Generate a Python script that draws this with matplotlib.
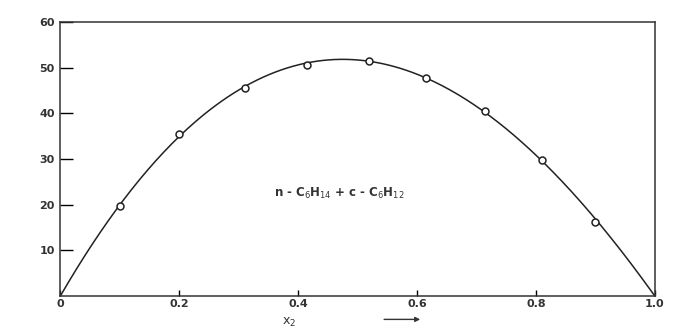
import numpy as np
import matplotlib
matplotlib.use("Agg")
import matplotlib.pyplot as plt

x2 = [0.0, 0.10, 0.20, 0.31, 0.415, 0.52, 0.615, 0.715, 0.81, 0.90, 1.0]
y_vals = [0.0, 19.8, 35.5, 45.6, 50.7, 51.5, 47.7, 40.6, 29.8, 16.2, 0.0]

x_ticks = [0.0, 0.2, 0.4, 0.6, 0.8, 1.0]
x_labels = ["0", "0.2", "0.4", "0.6", "0.8", "1.0"]
y_ticks = [10, 20, 30, 40, 50, 60]
y_labels = ["10", "20", "30", "40", "50", "60"]

system_label = r"n - C$_6$H$_{14}$ + c - C$_6$H$_{12}$"

# smooth curve: Redlich-Kister type fit y = x(1-x)(A + B(2x-1) + C(2x-1)^2)
xa = np.array(x2)
ya = np.array(y_vals)
inner = xa[1:-1]
z = 2 * inner - 1
basis = np.vstack([inner * (1 - inner) * z**k for k in range(3)]).T
coef, *_ = np.linalg.lstsq(basis, ya[1:-1], rcond=None)
xs = np.linspace(0, 1, 300)
zs = 2 * xs - 1
ys = sum(c * xs * (1 - xs) * zs**k for k, c in enumerate(coef))

fig = plt.figure(figsize=(6.85, 3.29), dpi=100)
ax = fig.add_axes([0.088, 0.1, 0.868, 0.833])

ax.plot(xs, ys, color="#222222", lw=1.1)
ax.plot(xa[1:-1], ya[1:-1], "o", ms=5, mfc="white", mec="#222222", mew=1.1)

ax.set_xlim(0, 1)
ax.set_ylim(0, 60)
ax.set_xticks(x_ticks)
ax.set_xticklabels(x_labels)
ax.set_yticks(y_ticks)
ax.set_yticklabels(y_labels)
ax.tick_params(axis="x", direction="in", length=4, width=1, labelsize=8, pad=2)
ax.tick_params(axis="y", direction="in", length=9, width=1, labelsize=8, pad=4)
for lab in ax.get_xticklabels() + ax.get_yticklabels():
    lab.set_fontweight("bold")
    lab.set_color("#333333")
for sp in ax.spines.values():
    sp.set_linewidth(1.1)
    sp.set_color("#333333")

# axis label: "x2" followed by an arrow further right
ax.text(0.385, -0.095, r"x$_2$", transform=ax.transAxes, ha="center", va="center",
        fontsize=9, color="#333333")
ax.annotate("", xy=(0.61, -0.085), xytext=(0.54, -0.085), xycoords="axes fraction",
            arrowprops=dict(arrowstyle="-|>", color="#333333", lw=1.0,
                            mutation_scale=7), annotation_clip=False)

ax.text(0.47, 22.5, system_label, ha="center", va="center",
        fontsize=8.5, fontweight="bold", color="#333333")

fig.savefig("out.png", dpi=100)
